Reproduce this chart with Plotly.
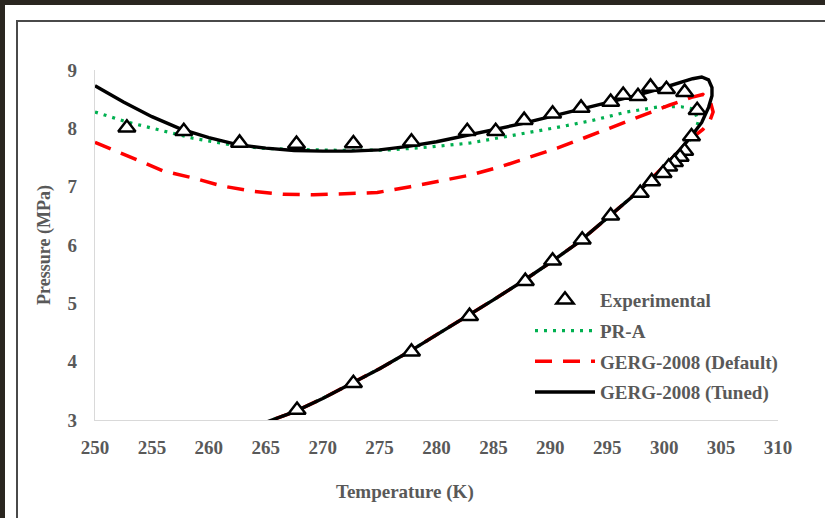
import plotly.graph_objects as go

# ---------------- data ----------------
exp_T = [252.8, 257.8, 262.7, 267.7, 272.7, 277.8, 282.7, 285.2, 287.7, 290.2,
         292.7, 295.3, 296.4, 297.7, 298.8, 300.2, 301.8, 302.9,
         302.4, 301.8, 301.4, 300.9, 300.4, 299.9, 298.9, 297.9, 295.3, 292.8,
         290.2, 287.8, 282.9, 277.8, 272.7, 267.75]
exp_P = [8.01, 7.95, 7.75, 7.73, 7.74, 7.77, 7.95, 7.95, 8.14, 8.25,
         8.35, 8.45, 8.57, 8.55, 8.71, 8.67, 8.62, 8.31,
         7.86, 7.61, 7.51, 7.42, 7.34, 7.23, 7.09, 6.89, 6.50, 6.09,
         5.73, 5.38, 4.78, 4.17, 3.63, 3.17]

pra_T = [250.0, 252.8, 255.7, 258.6, 261.6, 264.5, 267.0, 269.2, 272.5, 275.9,
         279.4, 283.0, 286.5, 291.0, 293.8, 296.7, 299.6, 301.5, 302.6, 303.0,
         302.6, 301.0, 300.0, 298.0, 295.0, 292.5, 290.0, 287.5, 285.0, 282.5,
         280.0, 277.5, 275.0, 272.5, 270.0, 267.5, 265.0]
pra_P = [8.28, 8.11, 7.97, 7.83, 7.73, 7.66, 7.64, 7.63, 7.62, 7.63,
         7.68, 7.75, 7.87, 8.03, 8.14, 8.28, 8.37, 8.37, 8.33, 8.12,
         7.86, 7.55, 7.34, 6.97, 6.46, 6.05, 5.70, 5.37, 5.06, 4.76,
         4.46, 4.16, 3.88, 3.62, 3.37, 3.14, 2.96]

gd_T = [250.0, 253.2, 256.0, 258.6, 261.2, 263.9, 266.5, 269.2, 272.4, 274.8,
        277.7, 280.0, 283.0, 285.6, 288.0, 290.6, 292.9, 295.5, 298.2, 300.5,
        302.4, 303.4, 304.0, 304.3, 304.0, 303.4, 302.6, 301.0, 300.0, 298.0,
        295.0, 292.5, 290.0, 287.5, 285.0, 282.5, 280.0, 277.5, 275.0, 272.5,
        270.0, 267.5, 265.0]
gd_P = [7.76, 7.49, 7.27, 7.15, 7.01, 6.92, 6.87, 6.86, 6.88, 6.90,
        7.00, 7.09, 7.20, 7.34, 7.49, 7.66, 7.83, 8.03, 8.23, 8.40,
        8.53, 8.58, 8.50, 8.28, 8.12, 7.98, 7.86, 7.55, 7.34, 6.97,
        6.46, 6.05, 5.70, 5.37, 5.06, 4.76, 4.46, 4.16, 3.88, 3.62,
        3.37, 3.14, 2.96]

gt_T = [250.0, 252.5, 255.0, 257.5, 260.0, 262.5, 265.0, 267.5, 270.0, 272.5,
        275.0, 277.5, 280.0, 282.5, 285.0, 287.5, 290.0, 292.5, 295.0, 297.5,
        300.0, 301.5, 302.5, 303.3, 303.9, 304.2, 304.2, 303.9, 303.3, 302.6,
        302.0, 301.0, 300.0, 299.0, 297.5, 295.0, 292.5, 290.0, 287.5, 285.0,
        282.5, 280.0, 277.5, 275.0, 272.5, 270.0, 267.5, 265.0]
gt_P = [8.73, 8.45, 8.20, 7.99, 7.84, 7.72, 7.66, 7.62, 7.61, 7.61,
        7.63, 7.69, 7.77, 7.87, 7.97, 8.08, 8.20, 8.32, 8.44, 8.56,
        8.70, 8.79, 8.85, 8.88, 8.83, 8.70, 8.56, 8.36, 8.10, 7.92,
        7.77, 7.55, 7.34, 7.14, 6.88, 6.46, 6.05, 5.70, 5.37, 5.06,
        4.76, 4.46, 4.16, 3.88, 3.62, 3.37, 3.14, 2.96]

x_ticks = [250, 255, 260, 265, 270, 275, 280, 285, 290, 295, 300, 305, 310]
y_ticks = [3, 4, 5, 6, 7, 8, 9]

# ---------------- figure ----------------
TXT = "#595959"
FONT = "Liberation Serif"

fig = go.Figure()

fig.add_trace(go.Scatter(
    x=pra_T, y=pra_P, mode="lines", name="PR-A", legendrank=2, legendgroup="b",
    line=dict(color="#00b050", width=3.2, dash="3px,6px")))
fig.add_trace(go.Scatter(
    x=gd_T, y=gd_P, mode="lines", name="GERG-2008 (Default)", legendrank=3, legendgroup="c",
    line=dict(color="#ff0000", width=3.5, dash="17px,11px")))
fig.add_trace(go.Scatter(
    x=gt_T, y=gt_P, mode="lines", name="GERG-2008 (Tuned)", legendrank=4, legendgroup="d",
    line=dict(color="#000000", width=3.4)))
fig.add_trace(go.Scatter(
    x=exp_T, y=exp_P, mode="markers", name="Experimental", legendrank=1, legendgroup="a",
    marker=dict(symbol="triangle-up", size=15, color="white",
                line=dict(color="black", width=2.5))))

# paper geometry: plot area x 95..778, y 70..420 (px)
def px_x(px):
    return (px - 95) / 683.0

def px_y(py):
    return (420 - py) / 350.0

shapes = [
    dict(type="rect", xref="paper", yref="paper", layer="below",
         x0=px_x(5), x1=px_x(830), y0=px_y(525), y1=px_y(5),
         fillcolor="white", line=dict(width=0)),
    dict(type="rect", xref="paper", yref="paper", layer="below",
         x0=px_x(17), x1=px_x(840), y0=px_y(540), y1=px_y(21),
         fillcolor="rgba(0,0,0,0)", line=dict(color="#4a4a4a", width=2)),
]

fig.update_layout(
    width=825, height=518,
    margin=dict(l=95, r=47, t=70, b=98),
    paper_bgcolor="#2a2620",
    plot_bgcolor="white",
    shapes=shapes,
    font=dict(family=FONT, color=TXT, size=19),
    showlegend=True,
    legend=dict(
        x=px_x(530), y=px_y(281), xanchor="left", yanchor="top",
        bgcolor="rgba(0,0,0,0)", tracegroupgap=3, itemwidth=60,
        font=dict(family=FONT, size=19, color=TXT, weight="bold")),
    annotations=[
        dict(text="<b>Temperature (K)</b>", xref="paper", yref="paper",
             x=px_x(405), y=px_y(492), xanchor="center", yanchor="middle",
             showarrow=False, font=dict(family=FONT, size=19, color=TXT)),
    ],
)

fig.update_xaxes(
    range=[250, 310], tickvals=x_ticks, ticktext=[str(v) for v in x_ticks],
    showgrid=False, zeroline=False,
    showline=True, linecolor="#d9d9d9", linewidth=1.3,
    ticks="outside", ticklen=10, tickcolor="rgba(0,0,0,0)",
    tickfont=dict(family=FONT, size=19, color=TXT, weight="bold"))
fig.update_yaxes(
    range=[3, 9], tickvals=y_ticks, ticktext=[str(v) for v in y_ticks],
    showgrid=False, zeroline=False,
    showline=True, linecolor="#d9d9d9", linewidth=1.3,
    ticks="outside", ticklen=13, tickcolor="rgba(0,0,0,0)",
    tickfont=dict(family=FONT, size=19, color=TXT, weight="bold"),
    title=dict(text="<b>Pressure (MPa)</b>", standoff=12,
               font=dict(family=FONT, size=18, color=TXT)))

fig.write_html("out.html")
